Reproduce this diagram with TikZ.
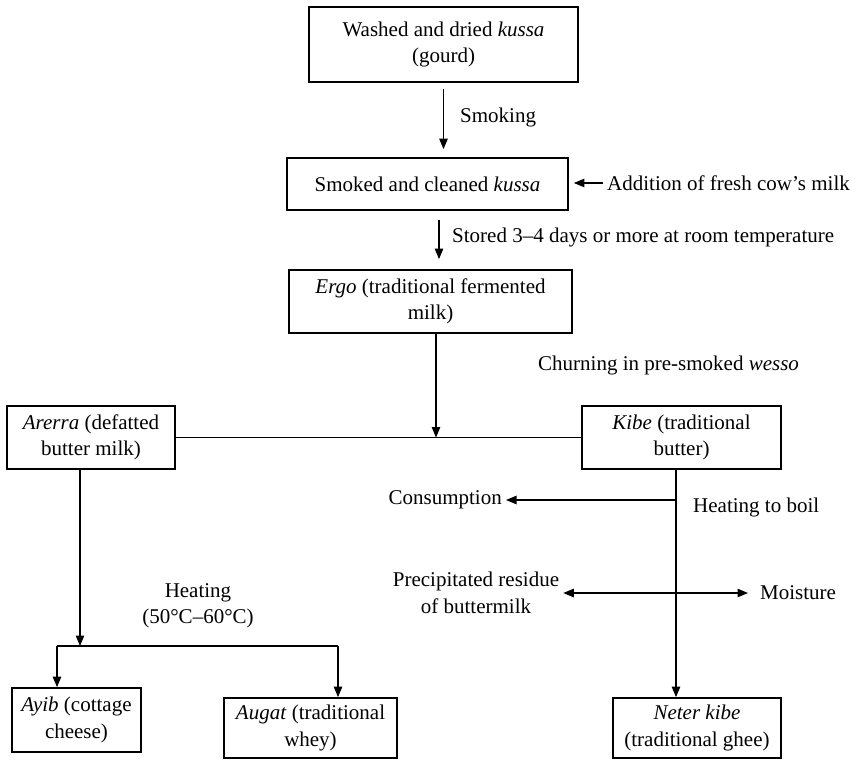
\documentclass[tikz,border=0pt]{standalone}
\usepackage{fontspec}
\setmainfont{Liberation Serif}
\usetikzlibrary{arrows.meta}
\begin{document}
\begin{tikzpicture}[x=1pt,y=-1pt,
  font=\fontsize{21}{26.5}\selectfont,
  tip/.tip={Triangle[length=10.5pt,width=8.5pt]},
  stage/.style={draw, line width=1.8pt, align=center, inner sep=0pt},
  flow/.style={line width=1.1pt, -tip},
  twoway/.style={line width=1.1pt, tip-tip},
  link/.style={line width=1.1pt},
  lbl/.style={inner sep=0pt, align=center}]
\useasboundingbox (0,0) rectangle (857,761);

% process stages
\node[stage, minimum width=269pt, minimum height=75pt] (gourd) at (443.5,44.5)
  {Washed and dried \textit{kussa}\\(gourd)};
\node[stage, minimum width=281pt, minimum height=52pt] (smoked) at (427.5,184)
  {Smoked and cleaned \textit{kussa}};
\node[stage, minimum width=283pt, minimum height=63pt] (ergo) at (430.5,301.5)
  {\textit{Ergo} (traditional fermented\\milk)};
\node[stage, minimum width=168pt, minimum height=63pt] (arerra) at (91,437.5)
  {\textit{Arerra} (defatted\\butter milk)};
\node[stage, minimum width=199pt, minimum height=63pt] (kibe) at (681.5,437.5)
  {\textit{Kibe} (traditional\\butter)};
\node[stage, minimum width=129pt, minimum height=64pt] (ayib) at (76.5,720)
  {\textit{Ayib} (cottage\\cheese)};
\node[stage, minimum width=173pt, minimum height=60pt] (augat) at (310.5,728)
  {\textit{Augat} (traditional\\whey)};
\node[stage, minimum width=168pt, minimum height=60pt] (neter) at (697,728)
  {\textit{Neter kibe}\\(traditional ghee)};

% side labels
\node[lbl, anchor=west] (smoking) at (460,117) {Smoking};
\node[lbl, anchor=west, inner sep=4pt] (milkin) at (603,183) {Addition of fresh cow’s milk};
\node[lbl, anchor=west] (stored) at (452,237) {Stored 3–4 days or more at room temperature};
\node[lbl, anchor=west] (churn) at (538,365) {Churning in pre-smoked \textit{wesso}};
\node[lbl, anchor=west] (boil) at (693,507) {Heating to boil};
\node[lbl, anchor=east, inner sep=4pt] (consume) at (506,500) {Consumption};
\node[lbl] (residue) at (476,593) {Precipitated residue\\of buttermilk};
\node[lbl, anchor=west] (moist) at (760,593) {Moisture};
\node[lbl] (heat) at (198,606) {Heating\\(50°C–60°C)};

% junction points
\coordinate (split) at (436,437.5);
\coordinate (tap) at (676,500);
\coordinate (cross) at (676,593);
\coordinate (fork) at (80,646);
\coordinate (forkL) at (57,646);
\coordinate (forkR) at (338,646);

% connectors
\draw[flow, shorten <=6pt, shorten >=8pt] (gourd.south) -- (gourd.south |- smoked.north);
\draw[flow, shorten >=5pt] (milkin.west) -- (smoked.east |- milkin.west);
\draw[flow, shorten <=9pt, shorten >=10pt] (smoked.south -| 439,0) -- (ergo.north -| 439,0);
\draw[link] (arerra.east) -- (kibe.west);
\draw[flow] (ergo.south -| split) -- (split);
\draw[flow] (arerra.south -| fork) -- (fork);
\draw[link] (forkL) -- (forkR);
\draw[flow] (forkL) -- (ayib.north -| forkL);
\draw[flow] (forkR) -- (augat.north -| forkR);
\draw[flow] (kibe.south -| tap) -- (neter.north -| tap);
\draw[flow] (tap) -- (consume.east);
\draw[twoway, shorten <=4pt] (residue.east |- cross) -- (748,593) coordinate (moistend);
\end{tikzpicture}
\end{document}
